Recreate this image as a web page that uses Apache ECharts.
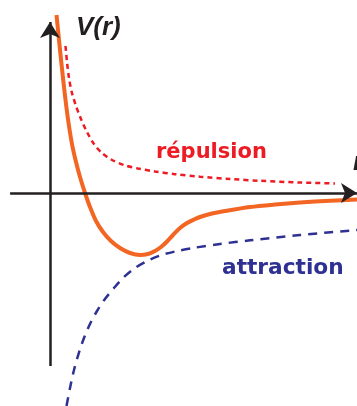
<!DOCTYPE html>
<html lang="en">
<head>
    <meta charset="UTF-8">
    <title>V(r)</title>
    <script src="https://cdn.jsdelivr.net/npm/echarts@6/dist/echarts.min.js"></script>
    <style>
        html, body { margin: 0; padding: 0; background: #fff; }
    </style>
</head>
<body>
    <div id="main" style="width: 357px;height:406px;"></div>

    <script>
        // courbes : [r, V]
        var totalV = [
            [0.217, 5.933], [0.3, 5.1], [0.383, 4.3], [0.467, 3.533], [0.55, 2.833],
            [0.633, 2.233], [0.733, 1.633], [0.867, 1.033], [1.0, 0.533], [1.167, 0],
            [1.333, -0.467], [1.533, -0.933], [1.767, -1.3], [2.033, -1.6], [2.333, -1.833],
            [2.667, -2.0], [3.0, -2.067], [3.267, -2.033], [3.5, -1.933], [3.7, -1.8],
            [3.9, -1.617], [4.1, -1.4], [4.333, -1.167], [4.567, -1.0], [4.8, -0.883],
            [5.0, -0.8], [5.4, -0.683], [5.833, -0.6], [6.667, -0.467], [7.5, -0.383],
            [8.333, -0.317], [9.333, -0.257], [10.233, -0.217]
        ];
        var repulsion = [
            [0.517, 4.9], [0.567, 4.367], [0.633, 3.833], [0.733, 3.333], [0.867, 2.9],
            [1.033, 2.467], [1.233, 2.033], [1.467, 1.633], [1.733, 1.333], [2.067, 1.1],
            [2.467, 0.933], [2.933, 0.817], [3.5, 0.717], [4.167, 0.627], [5.0, 0.543],
            [6.0, 0.467], [7.0, 0.407], [8.333, 0.35], [9.5, 0.317]
        ];
        var attraction = [
            [0.55, -7.1], [0.667, -6.5], [0.8, -5.9], [0.95, -5.367], [1.133, -4.833],
            [1.333, -4.367], [1.567, -3.933], [1.833, -3.533], [2.133, -3.167], [2.467, -2.8],
            [2.833, -2.5], [3.233, -2.267], [3.667, -2.083], [4.167, -1.95], [4.767, -1.833],
            [5.667, -1.7], [6.667, -1.577], [8.333, -1.4], [10.233, -1.233]
        ];
        // axes : début et pointe des flèches
        var rAxisLine = [[-1.33, 0], [10.2333, 0]];
        var vAxisLine = [[0, -5.77], [0, 5.7]];

        var myChart = echarts.init(document.getElementById('main'));

        var option = {
            animation: false,
            grid: { left: 0, right: 0, top: 0, bottom: 0 },
            xAxis: { type: 'value', min: -1.6667, max: 10.2333, show: false },
            yAxis: { type: 'value', min: -7.1, max: 6.4333, show: false },
            graphic: [
                {
                    type: 'text', left: 76, top: 15,
                    style: { text: 'V(r)', font: 'italic bold 26px "Liberation Sans"', fill: '#231f20' }
                },
                {
                    type: 'text', left: 353, top: 150,
                    style: { text: 'r', font: 'italic bold 26px "Liberation Sans"', fill: '#231f20' }
                },
                {
                    type: 'text', left: 156, top: 142,
                    style: { text: 'répulsion', font: 'bold 21px "DejaVu Sans"', fill: '#ed1c24' }
                },
                {
                    type: 'text', left: 222, top: 257,
                    style: { text: 'attraction', font: 'bold 21.7px "DejaVu Sans"', fill: '#2e3192' }
                }
            ],
            series: [
                {
                    type: 'line',
                    data: repulsion,
                    smooth: 0.3,
                    symbol: 'none',
                    lineStyle: { color: '#ed1c24', width: 2.5, type: [5, 4] },
                    z: 2
                },
                {
                    type: 'line',
                    data: attraction,
                    smooth: 0.3,
                    symbol: 'none',
                    lineStyle: { color: '#2e3192', width: 2.5, type: [9, 7] },
                    z: 2
                },
                {
                    type: 'line',
                    data: totalV,
                    smooth: 0.3,
                    symbol: 'none',
                    lineStyle: { color: '#f26522', width: 4 },
                    z: 3,
                    markLine: {
                        silent: true,
                        symbol: ['none', 'arrow'],
                        symbolSize: [15, 16],
                        label: { show: false },
                        lineStyle: { color: '#231f20', width: 2.5, type: 'solid' },
                        data: [
                            [{ coord: rAxisLine[0] }, { coord: rAxisLine[1] }],
                            [{ coord: vAxisLine[0] }, { coord: vAxisLine[1] }]
                        ]
                    }
                }
            ]
        };

        myChart.setOption(option);
    </script>
</body>
</html>
